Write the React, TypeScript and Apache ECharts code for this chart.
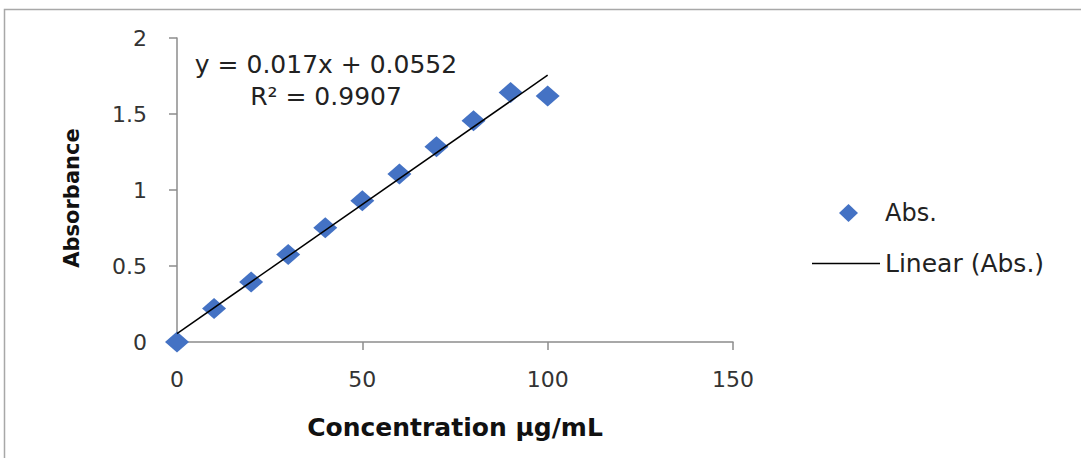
import React, { useEffect, useRef } from "react";
import * as echarts from "echarts";

const concentrations = [0, 10, 20, 30, 40, 50, 60, 70, 80, 90, 100];
const absorbances = [0, 0.22, 0.395, 0.575, 0.751, 0.929, 1.105, 1.285, 1.456, 1.642, 1.618];
const trendSlope = 0.017;
const trendIntercept = 0.0552;
const trendX = [0, 100];
const rSquared = "0.9907";
const xTicks = [0, 50, 100, 150];
const yTicks = [0, 0.5, 1, 1.5, 2];

const FONT = "DejaVu Sans";

export default function App() {
  const ref = useRef<HTMLDivElement>(null);
  useEffect(() => {
    if (!ref.current) return;
    const chart = echarts.init(ref.current, null, { renderer: "svg" });
    const trendData = trendX.map((x) => [x, trendSlope * x + trendIntercept]);
    chart.setOption({
      animation: false,
      backgroundColor: "#ffffff",
      grid: { left: 177, top: 38, right: 348, bottom: 116, containLabel: false },
      xAxis: {
        type: "value",
        min: xTicks[0],
        max: xTicks[xTicks.length - 1],
        interval: 50,
        name: "Concentration µg/mL",
        nameLocation: "middle",
        nameGap: 73,
        nameTextStyle: { fontFamily: FONT, fontSize: 25, fontWeight: "bold", color: "#111" },
        axisLine: { show: true, lineStyle: { color: "#8c8c8c", width: 1.5 } },
        axisTick: { show: true, length: 8, lineStyle: { color: "#8c8c8c", width: 1.5 } },
        axisLabel: { fontFamily: FONT, fontSize: 22, color: "#333", margin: 26 },
        splitLine: { show: false },
      },
      yAxis: {
        type: "value",
        min: yTicks[0],
        max: yTicks[yTicks.length - 1],
        interval: 0.5,
        name: "Absorbance",
        nameLocation: "middle",
        nameGap: 95,
        nameTextStyle: {
          fontFamily: FONT,
          fontSize: 21,
          fontWeight: "bold",
          color: "#111",
          padding: [0, 16, 0, 0],
        },
        axisLine: { show: true, lineStyle: { color: "#8c8c8c", width: 1.5 } },
        axisTick: { show: true, length: 8, lineStyle: { color: "#8c8c8c", width: 1.5 } },
        axisLabel: { fontFamily: FONT, fontSize: 22, color: "#333", margin: 30 },
        splitLine: { show: false },
      },
      legend: [
        {
          data: [{ name: "Abs.", icon: "diamond" }],
          left: 834,
          top: 196,
          itemWidth: 19,
          itemHeight: 18,
          textStyle: { fontFamily: FONT, fontSize: 24, color: "#222", padding: [0, 0, 0, 22] },
          selectedMode: false,
        },
        {
          data: [{ name: "Linear (Abs.)", icon: "rect" }],
          left: 807,
          top: 246,
          itemWidth: 68,
          itemHeight: 1.5,
          itemStyle: { color: "#000" },
          textStyle: { fontFamily: FONT, fontSize: 25, color: "#222" },
          selectedMode: false,
        },
      ],
      graphic: [
        {
          type: "rect",
          silent: true,
          shape: { x: 4.5, y: 9.5, width: 1200, height: 600 },
          style: { fill: "none", stroke: "#a8a8a8", lineWidth: 1.5 },
        },
        {
          type: "text",
          x: 326,
          y: 64,
          style: {
            text: "y = " + trendSlope + "x + " + trendIntercept,
            fontFamily: FONT,
            fontSize: 25,
            fill: "#222",
            align: "center",
            verticalAlign: "middle",
          },
        },
        {
          type: "text",
          x: 326,
          y: 96,
          style: {
            text: "R² = " + rSquared,
            fontFamily: FONT,
            fontSize: 25,
            fill: "#222",
            align: "center",
            verticalAlign: "middle",
          },
        },
      ],
      series: [
        {
          name: "Abs.",
          type: "scatter",
          symbol: "diamond",
          symbolSize: [24, 21],
          itemStyle: { color: "#4472C4", opacity: 1 },
          data: concentrations.map((c, i) => [c, absorbances[i]]),
          z: 3,
        },
        {
          name: "Linear (Abs.)",
          type: "line",
          symbol: "none",
          lineStyle: { color: "#000", width: 1.5 },
          itemStyle: { color: "#000" },
          data: trendData,
          z: 4,
        },
      ],
    });
    return () => chart.dispose();
  }, []);
  return (
    <div
      ref={ref}
      style={{ position: "fixed", left: 0, top: 0, width: 1081, height: 458, background: "#fff" }}
    />
  );
}
